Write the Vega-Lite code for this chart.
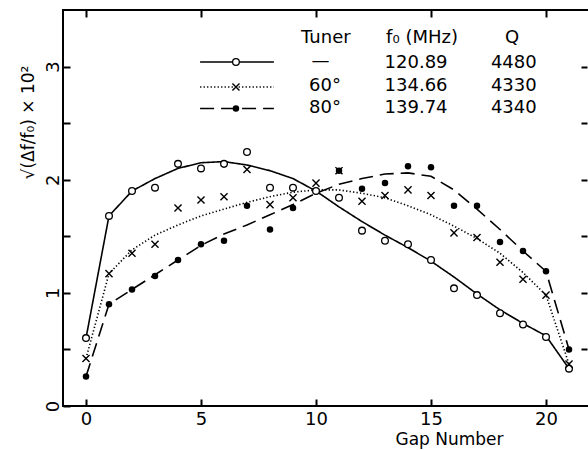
{
  "$schema": "https://vega.github.io/schema/vega-lite/v6.json",
  "autosize": {"type": "none"},
  "padding": {"left": 63, "top": 10, "right": 0, "bottom": 44},
  "width": 529,
  "height": 396,
  "background": "white",
  "config": {
    "view": {"stroke": "black", "strokeWidth": 2},
    "font": "DejaVu Sans",
    "axis": {"grid": false, "domain": false, "ticks": true, "zindex": 2, "tickColor": "#000000", "tickWidth": 2, "tickOpacity": 1, "labelColor": "black", "titleColor": "black", "labelFont": "DejaVu Sans", "titleFont": "DejaVu Sans", "titleFontWeight": "normal"}
  },
  "datasets": {
    "curves": [
      {"s": "A", "x": 0, "y": 0.60}, {"s": "A", "x": 1, "y": 1.68}, {"s": "A", "x": 2, "y": 1.90}, {"s": "A", "x": 3, "y": 2.01}, {"s": "A", "x": 4, "y": 2.10}, {"s": "A", "x": 5, "y": 2.15}, {"s": "A", "x": 6, "y": 2.16}, {"s": "A", "x": 7, "y": 2.13}, {"s": "A", "x": 8, "y": 2.08}, {"s": "A", "x": 9, "y": 2.01}, {"s": "A", "x": 10, "y": 1.90}, {"s": "A", "x": 11, "y": 1.76}, {"s": "A", "x": 12, "y": 1.63}, {"s": "A", "x": 13, "y": 1.51}, {"s": "A", "x": 14, "y": 1.40}, {"s": "A", "x": 15, "y": 1.28}, {"s": "A", "x": 16, "y": 1.14}, {"s": "A", "x": 17, "y": 0.99}, {"s": "A", "x": 18, "y": 0.85}, {"s": "A", "x": 19, "y": 0.73}, {"s": "A", "x": 20, "y": 0.62}, {"s": "A", "x": 21, "y": 0.33},
      {"s": "B", "x": 0, "y": 0.42}, {"s": "B", "x": 1, "y": 1.17}, {"s": "B", "x": 2, "y": 1.38}, {"s": "B", "x": 3, "y": 1.51}, {"s": "B", "x": 4, "y": 1.60}, {"s": "B", "x": 5, "y": 1.68}, {"s": "B", "x": 6, "y": 1.74}, {"s": "B", "x": 7, "y": 1.80}, {"s": "B", "x": 8, "y": 1.85}, {"s": "B", "x": 9, "y": 1.89}, {"s": "B", "x": 10, "y": 1.91}, {"s": "B", "x": 11, "y": 1.91}, {"s": "B", "x": 12, "y": 1.88}, {"s": "B", "x": 13, "y": 1.84}, {"s": "B", "x": 14, "y": 1.77}, {"s": "B", "x": 15, "y": 1.69}, {"s": "B", "x": 16, "y": 1.59}, {"s": "B", "x": 17, "y": 1.48}, {"s": "B", "x": 18, "y": 1.35}, {"s": "B", "x": 19, "y": 1.18}, {"s": "B", "x": 20, "y": 0.98}, {"s": "B", "x": 21, "y": 0.37},
      {"s": "C", "x": 0, "y": 0.26}, {"s": "C", "x": 1, "y": 0.90}, {"s": "C", "x": 2, "y": 1.03}, {"s": "C", "x": 3, "y": 1.16}, {"s": "C", "x": 4, "y": 1.29}, {"s": "C", "x": 5, "y": 1.42}, {"s": "C", "x": 6, "y": 1.52}, {"s": "C", "x": 7, "y": 1.60}, {"s": "C", "x": 8, "y": 1.69}, {"s": "C", "x": 9, "y": 1.78}, {"s": "C", "x": 10, "y": 1.88}, {"s": "C", "x": 11, "y": 1.96}, {"s": "C", "x": 12, "y": 2.01}, {"s": "C", "x": 13, "y": 2.05}, {"s": "C", "x": 14, "y": 2.06}, {"s": "C", "x": 15, "y": 2.03}, {"s": "C", "x": 16, "y": 1.91}, {"s": "C", "x": 17, "y": 1.74}, {"s": "C", "x": 18, "y": 1.56}, {"s": "C", "x": 19, "y": 1.37}, {"s": "C", "x": 20, "y": 1.19}, {"s": "C", "x": 21, "y": 0.50},
      {"s": "LA", "x": 4.96, "y": 3.04}, {"s": "LA", "x": 8.17, "y": 3.04},
      {"s": "LB", "x": 4.96, "y": 2.82}, {"s": "LB", "x": 8.17, "y": 2.82},
      {"s": "LC", "x": 4.96, "y": 2.63}, {"s": "LC", "x": 8.17, "y": 2.63}
    ],
    "points": [
      {"s": "A", "x": 0, "y": 0.60}, {"s": "A", "x": 1, "y": 1.68}, {"s": "A", "x": 2, "y": 1.90}, {"s": "A", "x": 3, "y": 1.93}, {"s": "A", "x": 4, "y": 2.14}, {"s": "A", "x": 5, "y": 2.10}, {"s": "A", "x": 6, "y": 2.14}, {"s": "A", "x": 7, "y": 2.245}, {"s": "A", "x": 8, "y": 1.93}, {"s": "A", "x": 9, "y": 1.93}, {"s": "A", "x": 10, "y": 1.90}, {"s": "A", "x": 11, "y": 1.84}, {"s": "A", "x": 12, "y": 1.55}, {"s": "A", "x": 13, "y": 1.46}, {"s": "A", "x": 14, "y": 1.43}, {"s": "A", "x": 15, "y": 1.29}, {"s": "A", "x": 16, "y": 1.04}, {"s": "A", "x": 17, "y": 0.98}, {"s": "A", "x": 18, "y": 0.82}, {"s": "A", "x": 19, "y": 0.72}, {"s": "A", "x": 20, "y": 0.61}, {"s": "A", "x": 21, "y": 0.33}, {"s": "A", "x": 6.52, "y": 3.04},
      {"s": "B", "x": 0, "y": 0.42}, {"s": "B", "x": 1, "y": 1.17}, {"s": "B", "x": 2, "y": 1.35}, {"s": "B", "x": 3, "y": 1.43}, {"s": "B", "x": 4, "y": 1.75}, {"s": "B", "x": 5, "y": 1.82}, {"s": "B", "x": 6, "y": 1.85}, {"s": "B", "x": 7, "y": 2.09}, {"s": "B", "x": 8, "y": 1.78}, {"s": "B", "x": 9, "y": 1.84}, {"s": "B", "x": 10, "y": 1.97}, {"s": "B", "x": 11, "y": 2.08}, {"s": "B", "x": 12, "y": 1.81}, {"s": "B", "x": 13, "y": 1.86}, {"s": "B", "x": 14, "y": 1.91}, {"s": "B", "x": 15, "y": 1.86}, {"s": "B", "x": 16, "y": 1.53}, {"s": "B", "x": 17, "y": 1.49}, {"s": "B", "x": 18, "y": 1.27}, {"s": "B", "x": 19, "y": 1.12}, {"s": "B", "x": 20, "y": 0.98}, {"s": "B", "x": 21, "y": 0.37}, {"s": "B", "x": 6.52, "y": 2.82},
      {"s": "C", "x": 0, "y": 0.26}, {"s": "C", "x": 1, "y": 0.90}, {"s": "C", "x": 2, "y": 1.03}, {"s": "C", "x": 3, "y": 1.15}, {"s": "C", "x": 4, "y": 1.29}, {"s": "C", "x": 5, "y": 1.43}, {"s": "C", "x": 6, "y": 1.46}, {"s": "C", "x": 7, "y": 1.77}, {"s": "C", "x": 8, "y": 1.56}, {"s": "C", "x": 9, "y": 1.75}, {"s": "C", "x": 11, "y": 2.08}, {"s": "C", "x": 12, "y": 1.92}, {"s": "C", "x": 13, "y": 1.97}, {"s": "C", "x": 14, "y": 2.12}, {"s": "C", "x": 15, "y": 2.11}, {"s": "C", "x": 16, "y": 1.77}, {"s": "C", "x": 17, "y": 1.77}, {"s": "C", "x": 18, "y": 1.45}, {"s": "C", "x": 19, "y": 1.37}, {"s": "C", "x": 20, "y": 1.19}, {"s": "C", "x": 21, "y": 0.50}, {"s": "C", "x": 6.52, "y": 2.63}
    ],
    "texts": [
      {"x": 10.43, "y": 3.25, "t": "Tuner"},
      {"x": 14.61, "y": 3.25, "t": "f₀ (MHz)"},
      {"x": 18.52, "y": 3.25, "t": "Q"},
      {"x": 10.2, "y": 3.05, "t": "—"},
      {"x": 14.35, "y": 3.03, "t": "120.89"},
      {"x": 18.6, "y": 3.03, "t": "4480"},
      {"x": 10.39, "y": 2.83, "t": "60°"},
      {"x": 14.35, "y": 2.83, "t": "134.66"},
      {"x": 18.6, "y": 2.83, "t": "4330"},
      {"x": 10.39, "y": 2.63, "t": "80°"},
      {"x": 14.35, "y": 2.63, "t": "139.74"},
      {"x": 18.6, "y": 2.63, "t": "4340"}
    ]
  },
  "layer": [
    {
      "data": {"name": "curves"},
      "mark": {"type": "line", "interpolate": "linear", "color": "black", "strokeWidth": 1.6},
      "encoding": {
        "x": {"field": "x", "type": "quantitative", "scale": {"domain": [-1, 22], "nice": false, "zero": false},
          "axis": {"orient": "bottom", "values": [0, 5, 10, 15, 20], "offset": -7, "tickSize": 7, "labelPadding": 4, "labelFontSize": 18, "title": "Gap Number", "titleFontSize": 17, "titleX": 386, "titleY": 45, "titleBaseline": "alphabetic", "titleAlign": "center", "titleAnchor": null}},
        "y": {"field": "y", "type": "quantitative", "scale": {"domain": [0, 3.5], "nice": false},
          "axis": {"orient": "left", "values": [0, 0.5, 1, 1.5, 2, 2.5, 3], "labelExpr": "datum.value % 1 == 0 ? format(datum.value, 'd') : ''", "offset": -7, "tickSize": 7, "labelPadding": 1, "labelFontSize": 18, "labelAngle": -90, "title": "√(Δf/f₀) × 10²", "titleFontSize": 17, "titleX": -42, "titleY": 112, "titleAngle": -90, "titleAlign": "center", "titleBaseline": "middle", "titleAnchor": null}},
        "detail": {"field": "s"},
        "strokeDash": {"field": "s", "type": "nominal", "legend": null,
          "scale": {"domain": ["A", "B", "C", "LA", "LB", "LC"], "range": [[1, 0], [1.3, 2.2], [14, 7], [1, 0], [1.3, 2.2], [14, 7]]}}
      }
    },
    {
      "data": {"name": "points"},
      "transform": [{"filter": "datum.s == 'A'"}],
      "mark": {"type": "point", "shape": "circle", "filled": true, "fill": "white", "stroke": "black", "strokeWidth": 1.3, "size": 45, "opacity": 1},
      "encoding": {
        "x": {"field": "x", "type": "quantitative", "axis": {"orient": "top", "values": [0, 5, 10, 15, 20], "offset": -7, "tickSize": 7, "labels": false, "title": null}},
        "y": {"field": "y", "type": "quantitative", "axis": {"orient": "right", "values": [0.5, 1, 1.5, 2, 2.5, 3], "offset": -11, "tickSize": 6, "labels": false, "title": null}}
      }
    },
    {
      "data": {"name": "points"},
      "transform": [{"filter": "datum.s == 'B'"}],
      "mark": {"type": "point", "shape": "M-1,-1L1,1M-1,1L1,-1", "filled": false, "stroke": "black", "strokeWidth": 1.4, "size": 50, "opacity": 1},
      "encoding": {
        "x": {"field": "x", "type": "quantitative", "axis": null},
        "y": {"field": "y", "type": "quantitative", "axis": null}
      }
    },
    {
      "data": {"name": "points"},
      "transform": [{"filter": "datum.s == 'C'"}],
      "mark": {"type": "point", "shape": "circle", "filled": true, "color": "black", "size": 42, "opacity": 1},
      "encoding": {
        "x": {"field": "x", "type": "quantitative", "axis": null},
        "y": {"field": "y", "type": "quantitative", "axis": null}
      }
    },
    {
      "data": {"name": "texts"},
      "mark": {"type": "text", "font": "DejaVu Sans", "fontSize": 18, "color": "black", "align": "center", "baseline": "middle"},
      "encoding": {
        "x": {"field": "x", "type": "quantitative", "axis": null},
        "y": {"field": "y", "type": "quantitative", "axis": null},
        "text": {"field": "t"}
      }
    }
  ]
}
